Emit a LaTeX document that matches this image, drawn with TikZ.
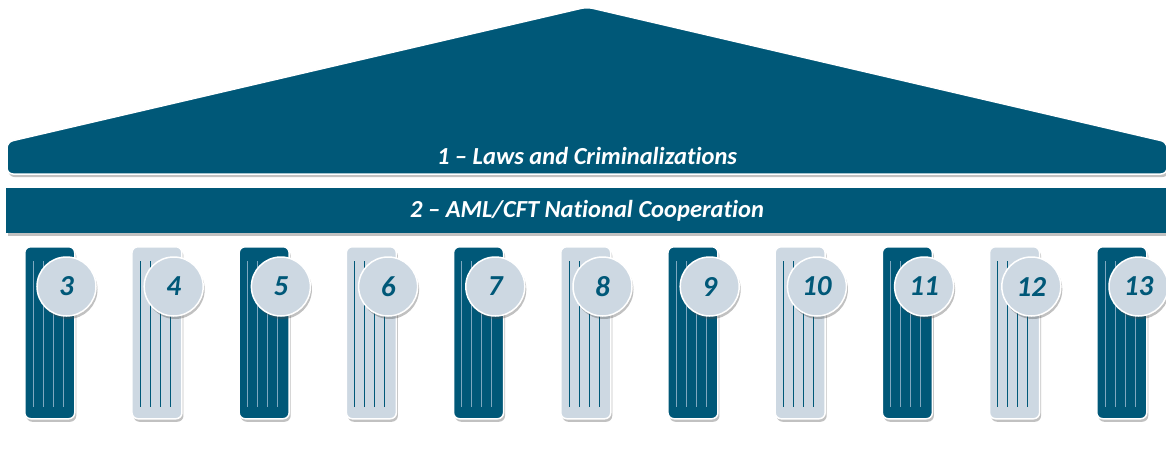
\documentclass[tikz,border=0pt]{standalone}
\usepackage{fontspec}
\setmainfont[Ligatures=NoCommon]{Carlito}
\usetikzlibrary{shadows}
\definecolor{teal}{HTML}{005878}
\definecolor{pale}{HTML}{CDD8E2}
\definecolor{lineblue}{HTML}{7FA8C0}
\tikzset{
  sh/.style={drop shadow={shadow xshift=1.5pt,shadow yshift=-3pt,opacity=0.35,fill=black!70}},
  roofshape/.style={fill=teal,draw=white,line width=1.5pt,rounded corners=6pt,sh},
  band/.style={fill=teal,draw=none,sh},
  colbox/.style={draw=white,line width=1.5pt,rounded corners=6pt,minimum width=50pt,minimum height=172pt,inner sep=0pt,anchor=north west,sh},
  darkcol/.style={colbox,fill=teal},
  lightcol/.style={colbox,fill=pale},
  numdisc/.style={circle,fill=pale,draw=white,line width=1.5pt,minimum size=59pt,inner sep=0pt,sh,
    font=\fontsize{29}{31}\selectfont\bfseries\itshape,text=teal},
  title/.style={font=\fontsize{24.5}{27}\selectfont\bfseries\itshape,text=white}
}
\begin{document}
\begin{tikzpicture}[x=1pt,y=-1pt]
\useasboundingbox (0,0) rectangle (1166,463);
% roof
\path[roofshape] (7,174) -- (7,142) -- (587,7) -- (1167,142) -- (1167,174) -- cycle;
\node[title] (t1) at (587,156) {1 – Laws and Criminalizations};
% band
\path[band] (6,188) rectangle (1167,233);
\node[title] (t2) at (587,211) {2 – AML/CFT National Cooperation};
% columns
\foreach \i in {3,...,13}{
  \pgfmathsetmacro{\xl}{24+107.2*(\i-3)}
  \pgfmathtruncatemacro{\odd}{mod(\i,2)}
  \ifnum\odd=1
    \node[darkcol] (c\i) at (\xl,246) {};
    \def\lc{lineblue}
  \else
    \node[lightcol] (c\i) at (\xl,246) {};
    \def\lc{teal}
  \fi
  \foreach \dx in {9,19,29,39}{
    \draw[\lc,line width=0.8pt] ([xshift=\dx pt,yshift=-15pt]c\i.north west) -- ([xshift=\dx pt,yshift=13pt]c\i.south west);
  }
  \node[numdisc] (n\i) at (\xl+42.5,286.5) {\i};
}
\end{tikzpicture}
\end{document}
